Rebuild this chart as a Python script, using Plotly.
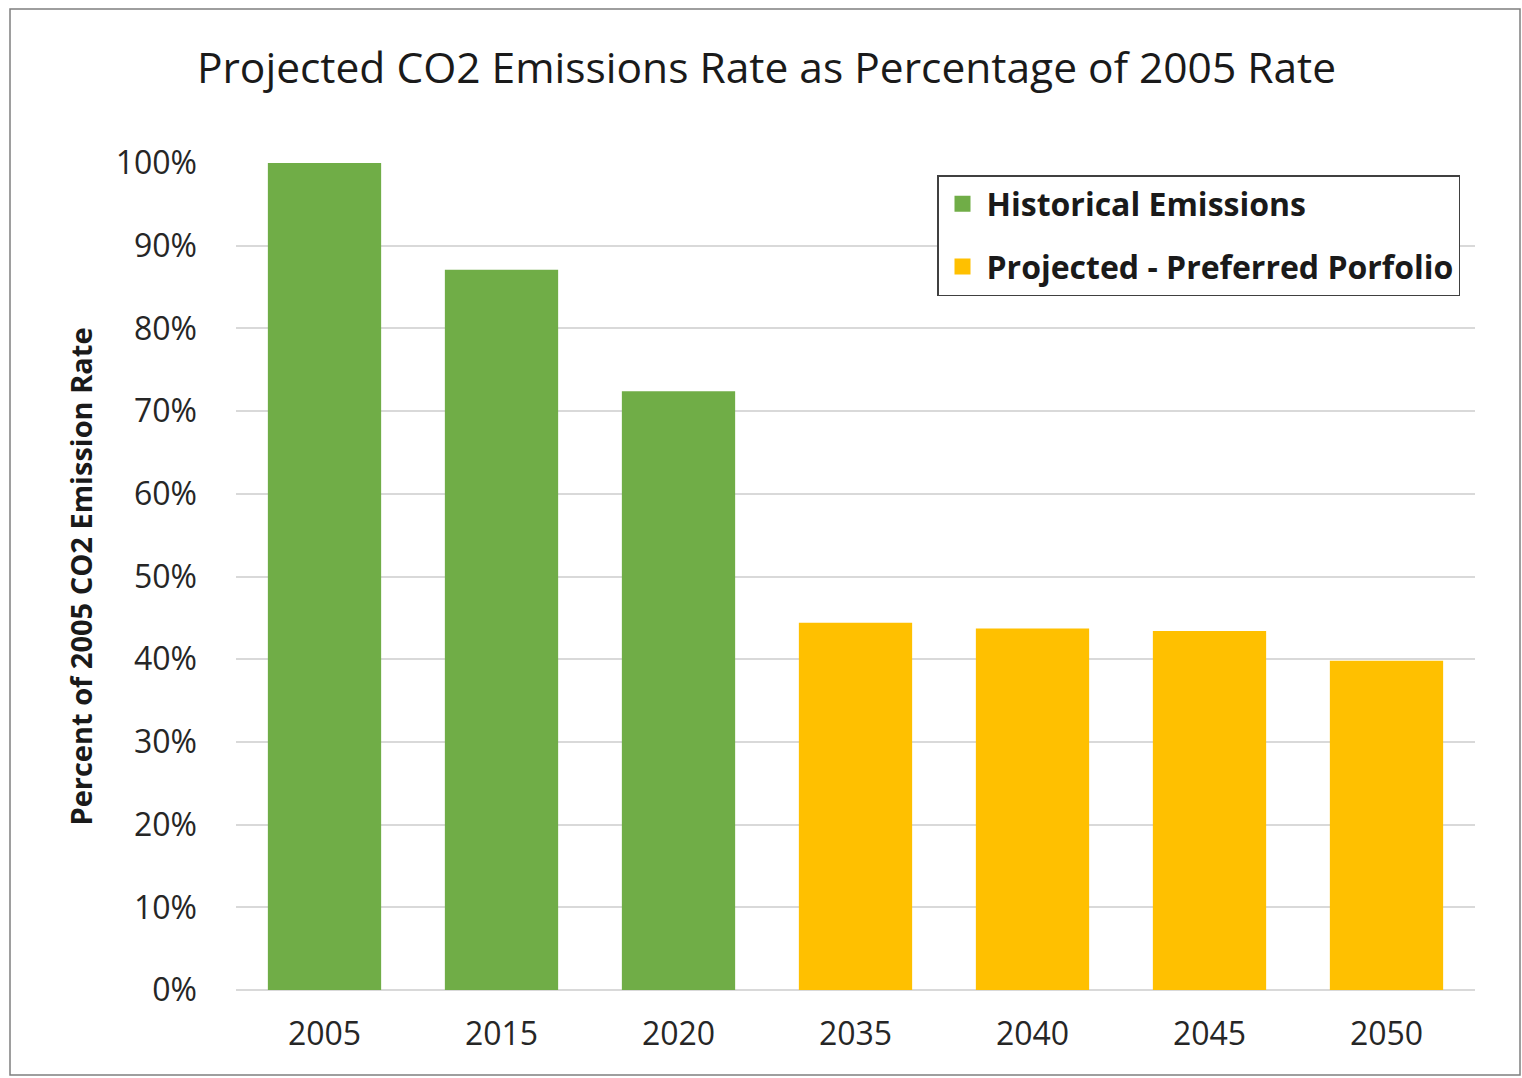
import plotly.graph_objects as go

categories = ["2005", "2015", "2020", "2035", "2040", "2045", "2050"]
hist_years = ["2005", "2015", "2020"]
hist_values = [100.0, 87.1, 72.4]
proj_years = ["2035", "2040", "2045", "2050"]
proj_values = [44.4, 43.7, 43.4, 39.8]
y_ticks = list(range(0, 101, 10))
y_tick_labels = [f"{v}%" for v in y_ticks]

GREEN = "#70AD47"
GOLD = "#FFC000"
FONT = "Open Sans"

W, H = 1522, 1078
L, R, T, B = 236, 1522 - 1475, 163, 1078 - 990
pw, ph = W - L - R, H - T - B

fig = go.Figure()
fig.add_trace(go.Bar(x=hist_years, y=hist_values, marker_color=GREEN,
                     marker_line_width=0, showlegend=False, name="Historical Emissions"))
fig.add_trace(go.Bar(x=proj_years, y=proj_values, marker_color=GOLD,
                     marker_line_width=0, showlegend=False, name="Projected - Preferred Porfolio"))
# legend entries
fig.add_trace(go.Scatter(x=[None], y=[None], mode="markers", name="<b>Historical Emissions</b>",
                         marker=dict(symbol="square", size=16, color=GREEN),
                         legendgroup="a", showlegend=True))
fig.add_trace(go.Scatter(x=[None], y=[None], mode="markers", name="<b>Projected - Preferred Porfolio</b>",
                         marker=dict(symbol="square", size=16, color=GOLD),
                         legendgroup="b", showlegend=True))

def px_x(x):
    return (x - L) / pw

def px_y(y):
    return (H - B - y) / ph

fig.add_shape(type="rect", xref="paper", yref="paper",
              x0=px_x(10), x1=px_x(1520), y0=px_y(1075), y1=px_y(9),
              line=dict(color="#7f7f7f", width=1.5), fillcolor="rgba(0,0,0,0)", layer="below")

fig.update_layout(
    width=W, height=H,
    margin=dict(l=L, r=R, t=T, b=B),
    paper_bgcolor="white", plot_bgcolor="white",
    barmode="relative", bargap=0.36,
    font=dict(family=FONT, color="#262626"),
    title=dict(text="Projected CO2 Emissions Rate as Percentage of 2005 Rate",
               x=766.5 / W, xanchor="center", xref="container", y=1 - 68 / H, yanchor="middle",
               font=dict(size=42.5, family=FONT, color="#1a1a1a")),
    xaxis=dict(type="category", categoryorder="array", categoryarray=categories,
               tickfont=dict(size=32, family=FONT, color="#262626"),
               showgrid=False, showline=False, ticks="", ticklabelstandoff=22),
    yaxis=dict(range=[0, 100], tickvals=y_ticks, ticktext=y_tick_labels,
               tickfont=dict(size=32, family=FONT, color="#262626"),
               showgrid=True, gridcolor="#d9d9d9", gridwidth=2,
               zeroline=True, zerolinecolor="#d9d9d9", zerolinewidth=2,
               showline=False, ticks="", ticklabelstandoff=38,
               title=dict(text="<b>Percent of 2005 CO2 Emission Rate</b>",
                          font=dict(size=29, family=FONT, color="#1a1a1a"), standoff=14)),
    legend=dict(x=px_x(937), y=px_y(175), xanchor="left", yanchor="top",
                bgcolor="white", bordercolor="#404040", borderwidth=1.5,
                font=dict(size=32, family=FONT, color="#1a1a1a"),
                traceorder="grouped", tracegroupgap=18,
                itemwidth=38),
)

fig.write_html("out.html", config={"displayModeBar": False},
               post_script="document.body.style.margin='0';document.body.style.padding='0';")
